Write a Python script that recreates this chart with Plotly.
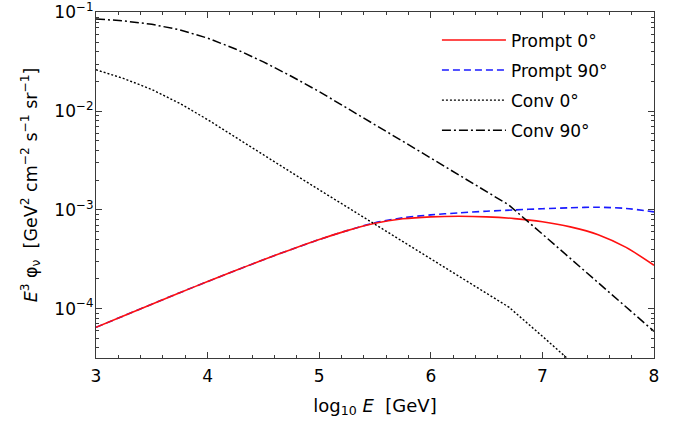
import plotly.graph_objects as go

# log10 of neutrino energy in GeV
log_e = [3.0, 3.25, 3.5, 3.75, 4.0, 4.25, 4.5, 4.75, 5.0, 5.25, 5.5,
         5.75, 6.0, 6.25, 6.5, 6.75, 7.0, 7.25, 7.5, 7.75, 8.0]

# prompt flux, E^3 phi in GeV^2 cm^-2 s^-1 sr^-1
prompt_0 = [6.46e-5, 8.47e-5, 1.11e-4, 1.45e-4, 1.88e-4, 2.43e-4, 3.13e-4,
            3.98e-4, 5.01e-4, 6.17e-4, 7.33e-4, 8.13e-4, 8.51e-4, 8.63e-4,
            8.51e-4, 8.17e-4, 7.59e-4, 6.73e-4, 5.62e-4, 4.17e-4, 2.75e-4]
prompt_90 = [6.46e-5, 8.47e-5, 1.11e-4, 1.45e-4, 1.88e-4, 2.43e-4, 3.13e-4,
             3.98e-4, 5.01e-4, 6.17e-4, 7.41e-4, 8.32e-4, 8.91e-4, 9.33e-4,
             9.70e-4, 1.00e-3, 1.028e-3, 1.052e-3, 1.064e-3, 1.035e-3, 9.55e-4]

# conventional flux, with the knee near log10 E = 6.7
log_e_conv = [3.0, 3.25, 3.5, 3.75, 4.0, 4.25, 4.5, 4.75, 5.0, 5.25, 5.5,
              5.75, 6.0, 6.25, 6.5, 6.7, 7.0, 7.25, 7.5, 8.0]
conv_0 = [0.0263, 0.0214, 0.0166, 0.0120, 0.00822, 0.00543, 0.00359,
          0.00240, 0.00160, 0.00107, 7.16e-4, 4.79e-4, 3.20e-4, 2.14e-4,
          1.43e-4, 1.035e-4, 5.25e-5, 2.95e-5, 1.66e-5, 5.2e-6]
conv_90 = [0.0861, 0.0822, 0.0759, 0.0668, 0.0550, 0.0427, 0.0316, 0.0226,
           0.0158, 0.0108, 0.00733, 0.00495, 0.00335, 0.00226, 0.00153,
           0.00112, 5.69e-4, 3.24e-4, 1.82e-4, 5.89e-5]

y_ticks = [1e-4, 1e-3, 1e-2, 1e-1]
y_tick_text = ["10<sup>\u22124</sup>", "10<sup>\u22123</sup>",
               "10<sup>\u22122</sup>", "10<sup>\u22121</sup>"]
x_ticks = [3, 4, 5, 6, 7, 8]

FONT = "DejaVu Sans, Liberation Sans, Arial, sans-serif"
AXIS_COLOR = "#3a3a3a"
NB = "\u00a0"

fig = go.Figure()
# the 90 degree prompt curve goes underneath so the solid red stays on top where they overlap
fig.add_trace(go.Scatter(x=log_e, y=prompt_90, mode="lines", name="Prompt 90\u00b0",
                         legendgroup="b", legendrank=2,
                         line=dict(color="#1a1aff", width=1.6, dash="7px,4px",
                                   shape="spline", smoothing=0.8)))
fig.add_trace(go.Scatter(x=log_e, y=prompt_0, mode="lines", name="Prompt 0\u00b0",
                         legendgroup="a", legendrank=1,
                         line=dict(color="#ff1010", width=1.6, shape="spline", smoothing=0.8)))
fig.add_trace(go.Scatter(x=log_e_conv, y=conv_0, mode="lines", name="Conv 0\u00b0",
                         legendgroup="c", legendrank=3,
                         line=dict(color="black", width=1.4, dash="2px,2px")))
fig.add_trace(go.Scatter(x=log_e_conv, y=conv_90, mode="lines", name="Conv 90\u00b0",
                         legendgroup="d", legendrank=4,
                         line=dict(color="black", width=1.5, dash="9px,3px,2px,3px")))

axis_common = dict(
    showline=True, linecolor=AXIS_COLOR, linewidth=1.2, mirror="allticks",
    ticks="inside", tickcolor=AXIS_COLOR, ticklen=6, tickwidth=1.2,
    showgrid=False, zeroline=False, automargin=False,
    tickfont=dict(family=FONT, size=17, color="black"),
)

fig.update_xaxes(
    **axis_common,
    range=[3, 8], tickvals=x_ticks,
    minor=dict(dtick=0.2, ticks="inside", ticklen=3, tickwidth=1,
               tickcolor=AXIS_COLOR, showgrid=False),
    ticklabelstandoff=2,
    title=dict(text=f"log<sub>10</sub> <i>E</i>{NB}{NB}[GeV]",
               font=dict(family=FONT, size=18, color="black"), standoff=14),
)
fig.update_yaxes(
    **axis_common,
    type="log", range=[-4.5, -0.995], tickvals=y_ticks, ticktext=y_tick_text,
    minor=dict(dtick="D1", ticks="inside", ticklen=3, tickwidth=1,
               tickcolor=AXIS_COLOR, showgrid=False),
    ticklabelstandoff=-2,
    title=dict(text=(f"<i>E</i><sup>3</sup> \u03c6<sub>\u03bd</sub>{NB}{NB}[GeV<sup>2</sup> "
                     f"cm<sup>\u22122</sup> s<sup>\u22121</sup> sr<sup>\u22121</sup>]"),
               font=dict(family=FONT, size=17.5, color="black"), standoff=12),
)

fig.update_layout(
    width=681, height=424,
    margin=dict(l=96, r=27, t=12, b=66),
    paper_bgcolor="white", plot_bgcolor="white",
    font=dict(family=FONT, size=17, color="black"),
    showlegend=True,
    legend=dict(x=0.611, y=0.97, xanchor="left", yanchor="top",
                bgcolor="rgba(0,0,0,0)", borderwidth=0,
                font=dict(family=FONT, size=17, color="black"),
                traceorder="grouped", tracegroupgap=5, itemwidth=64),
)

fig.write_html("out.html")
